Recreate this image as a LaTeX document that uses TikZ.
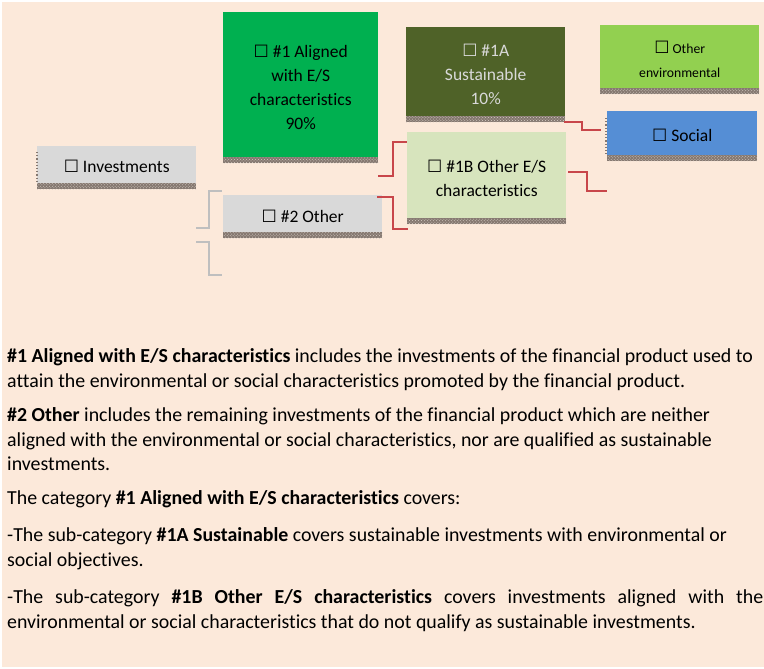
\documentclass[tikz,border=0pt]{standalone}
\usepackage{fontspec}
\setmainfont{Carlito}[Ligatures=NoCommon]
\newfontfamily\dejavu{DejaVu Sans}
\usetikzlibrary{patterns,calc}
\definecolor{peach}{HTML}{FCE9DA}
\definecolor{boxgray}{HTML}{D9D9D9}
\definecolor{green1}{HTML}{00B050}
\definecolor{olive}{HTML}{4F6228}
\definecolor{lime}{HTML}{92D050}
\definecolor{blue1}{HTML}{558ED5}
\definecolor{pale}{HTML}{D7E4BD}
\definecolor{stripbg}{HTML}{857870}
\definecolor{stripfg}{HTML}{D6CEC6}
\definecolor{redline}{HTML}{C8464A}
\definecolor{grayline}{HTML}{BFBFBF}
\newcommand\cbx{\smash{{\dejavu\fontsize{17bp}{17bp}\selectfont ☐}}}
\newlength\reflen
\begin{document}
\settowidth\reflen{\normalfont\fontsize{10bp}{12bp}\selectfont attain the environmental or social characteristics promoted by the financial product.}%
\pgfmathsetmacro\fsz{10*680.5/\reflen}%
\def\parafont{\fontsize{\fsz bp}{\fsz bp}\selectfont}%
\begin{tikzpicture}[x=1bp,y=-1bp,
  box/.style={inner sep=0, anchor=north west},
  boxtext/.style={inner sep=0, align=center, yshift=-2.5bp,
    font=\fontsize{17.5bp}{24bp}\selectfont},
  stripbox/.style={fill=stripbg},
  stripdots/.style={pattern=crosshatch dots, pattern color=stripfg},
  edgedot/.style={draw=stripbg, dotted, line width=1.2bp},
  redc/.style={draw=redline, line width=1.3bp},
  grayc/.style={draw=grayline, line width=1.3bp},
  para/.style={inner sep=0, anchor=base west, font=\parafont}]
\useasboundingbox (0,0) rectangle (764,669);
\fill[white] (0,0) rectangle (764,669);
\fill[peach] (2,2) rectangle (764,667);
% boxes
\node[box, fill=boxgray, minimum width=159bp, minimum height=37bp,
  label={[boxtext, name=invt]center:{\cbx\ Investments}}] (inv) at (37,146) {};
\node[box, fill=green1, minimum width=155bp, minimum height=145bp,
  label={[boxtext, name=g1t]center:{\cbx\ \#1 Aligned\\with E/S\\characteristics\\90\%}}] (g1) at (223,12) {};
\node[box, fill=boxgray, minimum width=159bp, minimum height=37bp,
  label={[boxtext, name=o2t]center:{\cbx\ \#2 Other}}] (o2) at (223,195) {};
\node[box, fill=olive, minimum width=159bp, minimum height=89bp,
  label={[boxtext, text=boxgray, name=s1at]center:{\cbx\ \#1A\\Sustainable\\10\%}}] (s1a) at (406,27) {};
\node[box, fill=lime, minimum width=159bp, minimum height=63bp,
  label={[boxtext, yshift=-1.5bp, font=\fontsize{13.7bp}{24bp}\selectfont, name=envt]center:{\cbx\ Other\\environmental}}] (env) at (600,25) {};
\node[box, fill=blue1, minimum width=150bp, minimum height=44bp,
  label={[boxtext, name=soct]center:{\cbx\ Social}}] (soc) at (607,111) {};
\node[box, fill=pale, minimum width=159bp, minimum height=86bp,
  label={[boxtext, yshift=-1bp, name=s1bt]center:{\cbx\ \#1B Other E/S\\characteristics}}] (s1b) at (407,132) {};
% patterned strips under boxes
\foreach \n in {inv,g1,o2,s1a,env,soc,s1b}{
  \fill[stripbox] (\n.south west) rectangle ($(\n.south east)+(0,6)$);
  \fill[stripdots] (\n.south west) rectangle ($(\n.south east)+(0,6)$);
}
\draw[edgedot] ($(inv.north west)+(0,6)$) -- (inv.south west);
\draw[edgedot] ($(soc.north west)+(-1,7)$) -- ($(soc.south west)+(-1,0)$);
% connectors
\coordinate (r1a) at (378,176); \coordinate (r1b) at (407,142);
\coordinate (r2a) at (377,197); \coordinate (r2b) at (408,229);
\coordinate (r3a) at (564,122); \coordinate (r3b) at (601,130);
\coordinate (r4a) at (568,172); \coordinate (r4b) at (607,191);
\coordinate (b1a) at (196,228); \coordinate (b1b) at (222,191);
\coordinate (b2a) at (196,242); \coordinate (b2b) at (222,275);
\draw[redc] (r1a) -- ++(15,0) |- (r1b);
\draw[redc] (r2a) -- ++(16,0) |- (r2b);
\draw[redc] (r3a) -- ++(18,0) |- (r3b);
\draw[redc] (r4a) -- ++(19,0) |- (r4b);
\draw[grayc] (b1a) -- ++(13,0) |- (b1b);
\draw[grayc] (b2a) -- ++(13,0) |- (b2b);
% paragraphs
\node[para] (p1) at (7,362) {\textbf{\#1 Aligned with E/S characteristics} includes the investments of the financial product used to};
\node[para] (p2) at (7,387) {attain the environmental or social characteristics promoted by the financial product.};
\node[para] (p3) at (7,421.5) {\textbf{\#2 Other} includes the remaining investments of the financial product which are neither};
\node[para] (p4) at (7,446.5) {aligned with the environmental or social characteristics, nor are qualified as sustainable};
\node[para] (p5) at (7,470.5) {investments.};
\node[para] (p6) at (7,504.5) {The category \textbf{\#1 Aligned with E/S characteristics} covers:};
\node[para] (p7) at (7,541) {-The sub-category \textbf{\#1A Sustainable} covers sustainable investments with environmental or};
\node[para] (p8) at (7,566) {social objectives.};
\node[para] (p9) at (7,603) {\makebox[756bp][s]{-The sub-category \textbf{\#1B Other E/S characteristics} covers investments aligned with the}};
\node[para] (p10) at (7,628) {environmental or social characteristics that do not qualify as sustainable investments.};
\end{tikzpicture}
\end{document}
